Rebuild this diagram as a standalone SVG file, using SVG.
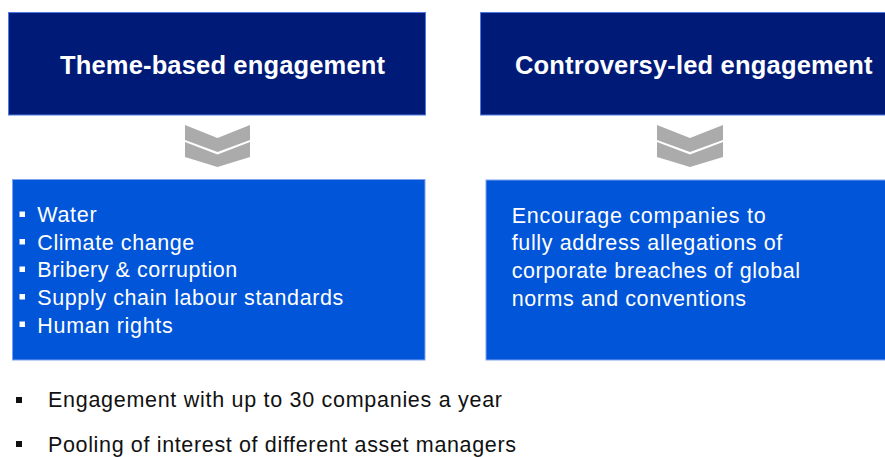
<svg xmlns="http://www.w3.org/2000/svg" width="885" height="457" viewBox="0 0 885 457">
<style>
.hdr{fill:#001A78;stroke:#4F78E0;stroke-width:1}
.body{fill:#0055D9;stroke:#7FA2EE;stroke-width:1}
.ht{font-family:"Liberation Sans",Arial,sans-serif;font-weight:bold;font-size:25.5px;fill:#FFFFFF}
.bt{font-family:"Liberation Sans",Arial,sans-serif;font-size:21.5px;fill:#FFFFFF}
.ft{font-family:"Liberation Sans",Arial,sans-serif;font-size:21.5px;fill:#111111}
.chev{fill:#ABABAB}
.wb{fill:#FFFFFF}
.kb{fill:#111111}
</style>
<rect width="885" height="457" fill="#FFFFFF"/>
<g id="theme-header">
<rect class="hdr" x="8.5" y="12.5" width="417" height="102.5"/>
<text class="ht" x="60" y="73.8" textLength="325" lengthAdjust="spacing">Theme-based engagement</text>
</g>
<g id="controversy-header">
<rect class="hdr" x="480.5" y="12.5" width="410" height="102.5"/>
<text class="ht" x="515" y="73.8" textLength="357.5" lengthAdjust="spacing">Controversy-led engagement</text>
</g>
<g id="connectors">
<polygon class="chev" points="185,125 217.5,138 250,125 250,140 217.5,152 185,140"/>
<polygon class="chev" points="185,142 217.5,154.5 250,142 250,157 217.5,167 185,157"/>
<polygon class="chev" points="657,125 690,138 723,125 723,140 690,152 657,140"/>
<polygon class="chev" points="657,142 690,154.5 723,142 723,157 690,167 657,157"/>
</g>
<g id="theme-topics">
<rect class="body" x="12.5" y="179.5" width="412.5" height="180.5"/>
<rect class="wb" x="19.5" y="211.5" width="5.5" height="5.5"/>
<rect class="wb" x="19.5" y="239" width="5.5" height="5.5"/>
<rect class="wb" x="19.5" y="266.5" width="5.5" height="5.5"/>
<rect class="wb" x="19.5" y="294" width="5.5" height="5.5"/>
<rect class="wb" x="19.5" y="321.5" width="5.5" height="5.5"/>
<text class="bt" x="37.3" y="222.3" textLength="59.3" lengthAdjust="spacing">Water</text>
<text class="bt" x="37.3" y="249.8" textLength="157" lengthAdjust="spacing">Climate change</text>
<text class="bt" x="37.3" y="277.4" textLength="200" lengthAdjust="spacing">Bribery &amp; corruption</text>
<text class="bt" x="37.3" y="305" textLength="306" lengthAdjust="spacing">Supply chain labour standards</text>
<text class="bt" x="37.3" y="332.6" textLength="135.4" lengthAdjust="spacing">Human rights</text>
</g>
<g id="controversy-aim">
<rect class="body" x="486" y="180" width="405" height="180"/>
<text class="bt" x="511.7" y="222.5" textLength="254" lengthAdjust="spacing">Encourage companies to</text>
<text class="bt" x="511.7" y="250.3" textLength="270.6" lengthAdjust="spacing">fully address allegations of</text>
<text class="bt" x="511.7" y="278.2" textLength="288.3" lengthAdjust="spacing">corporate breaches of global</text>
<text class="bt" x="511.7" y="306" textLength="234.3" lengthAdjust="spacing">norms and conventions</text>
</g>
<g id="notes">
<rect class="kb" x="16" y="397" width="6" height="6"/>
<rect class="kb" x="16" y="441" width="6" height="6"/>
<text class="ft" x="48" y="406.7" textLength="454" lengthAdjust="spacing">Engagement with up to 30 companies a year</text>
<text class="ft" x="48" y="451.5" textLength="468" lengthAdjust="spacing">Pooling of interest of different asset managers</text>
</g>
</svg>
